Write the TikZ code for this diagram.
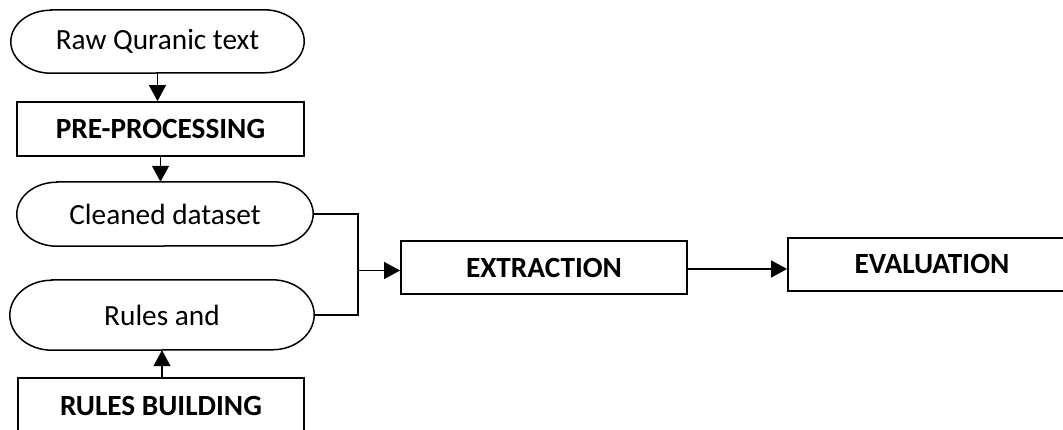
\documentclass[tikz,border=0pt]{standalone}
\usepackage{fontspec}
\setmainfont{Carlito}
\usetikzlibrary{arrows.meta,calc}
\newcommand\termpath[3]{% node name, x radius, y radius
  \draw[line width=1.5pt] ($(#1.north west)+(#2,0)$) -- ($(#1.north east)+(-#2,0)$)
    arc[start angle=90,end angle=-90,x radius=#2pt,y radius=#3pt]
    -- ($(#1.south west)+(#2,0)$)
    arc[start angle=270,end angle=90,x radius=#2pt,y radius=#3pt] -- cycle;}
\begin{document}
\begin{tikzpicture}[x=1pt,y=-1pt,
  term/.style={inner sep=0pt,font=\fontsize{29.3}{34}\selectfont},
  box/.style={draw,line width=1.8pt,rectangle,inner sep=0pt,font=\fontsize{29.3}{34}\selectfont\bfseries},
  conn/.style={line width=1.3pt},
  arr/.style={conn,-{Triangle[length=16pt,width=17pt]}}]
\useasboundingbox (0,0) rectangle (1063,430);
\clip (0,0) rectangle (1063,430);
\node[term,minimum width=293pt,minimum height=63pt] (raw) at (157.5,41.5) {Raw Quranic text};
\termpath{raw}{40}{31.5}
\node[box,minimum width=287pt,minimum height=54pt] (pre) at (160.5,129) {PRE-PROCESSING};
\node[term,minimum width=296pt,minimum height=64pt] (clean) at (165,214) {Cleaned dataset};
\termpath{clean}{40}{32}
\node[term,minimum width=304pt,minimum height=70pt] (rules) at (162,315) {Rules and};
\termpath{rules}{42}{35}
\node[box,minimum width=286pt,minimum height=56pt] (rb) at (161,406) {RULES BUILDING};
\node[box,minimum width=286pt,minimum height=53pt] (ext) at (544,267.5) {EXTRACTION};
\node[box,minimum width=288pt,minimum height=53pt] (eval) at (932,264.5) {EVALUATION};
\coordinate (merge) at (358,270.5);
\draw[arr] (raw.south) -- (raw.south |- pre.north);
\draw[arr] (pre.south) -- (pre.south |- clean.north);
\draw[arr] (rb.north -| rules.south) -- (rules.south);
\draw[conn] (clean.east) -| (merge);
\draw[conn] (rules.east) -| (merge);
\draw[arr] (merge) -- (merge -| ext.west);
\draw[arr] (ext.east |- 0,269) -- (eval.west |- 0,269);
\end{tikzpicture}
\end{document}
